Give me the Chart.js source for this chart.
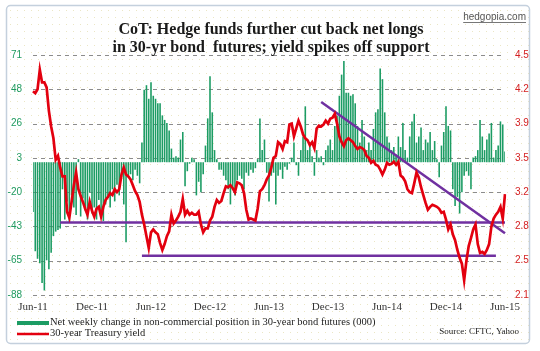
<!DOCTYPE html>
<html>
<head>
<meta charset="utf-8">
<script src="https://cdn.jsdelivr.net/npm/chart.js@4.4.1/dist/chart.umd.min.js"></script>
<style>
    html, body { margin: 0; padding: 0; background: #ffffff; }
    #wrap { width: 540px; height: 351px; }
</style>
</head>
<body>
<div id="wrap"><canvas id="cotChart" width="540" height="351"></canvas></div>
<script>
// weekly data, first week = Jun-11, one value per week
const netChange = [
    -33, -59, -64, -67, -80, -85, -65, -71, -60, -49, -46, -45, -44, -18, -38, -26, -40, -22, -30, -35,
    2, -36, -24, -32, -38, -20, -34, -30, -38, -25, -36, -39, -28, -22, -30, -18, -26, -15, -22, -10, -28, -53, -10, -8, -12, -5, -9, -14, 13,
    48, 51, 42, 53, 44, 42, 39, 39, 31, 28, 26, 21, 9, 3, 4, 3, 15, 20, -16, -6, -1, 3, 2, -22, -13, -20, -8, 11, 29,
    57, 33, 8, 2, -5, -5, -9, -12, -18, -28, -18, -22, -12, -9, -11, -18, -7, -9, -5, -7, -4, 2, 29, 8, 15, -7, -26, -9, -7,
    -28, -9, -5, -11, -3, -5, -1, 3, 13, -2, -9, 8, 17, 37, 8, 11, 4, -9, 8, 3, 4, -2, 8, 11, 15, 8, 24, 31, 44,
    58, 67, 46, 46, 44, 45, 39, 24, 13, 28, 17, 8, 13, 8, 22, 33, 35, 62, 55, 33, 17, 13, 8, 10, 5, 17, 10, 26, 8,
    3, 17, 27, 32, 13, 17, 23, 8, 15, 13, 20, 8, 14, 2, -10, 11, 20, 37, 24, 21, -18, -29, -23, -34, -20, -9, -6, -9, -18,
    3, 4, 8, 28, 17, 8, 15, 19, 26, 3, 8, 11, 27, 25, 7
];

const bondYield = [
    4.18, 4.16, 4.20, 4.40, 4.27, 4.27, 4.22, 3.98, 3.82, 3.70, 3.48, 3.52, 3.40, 3.31, 3.31, 2.95, 2.89, 3.05, 3.22, 3.35,
    3.18, 3.11, 3.05, 2.98, 2.92, 3.05, 2.96, 2.90, 2.98, 3.00, 2.90, 3.00, 3.07, 3.10, 3.14, 3.12, 3.18, 3.15, 3.18, 3.33, 3.40, 3.33, 3.31, 3.28, 3.22, 3.16, 3.12, 3.05, 2.92,
    2.82, 2.70, 2.58, 2.74, 2.77, 2.74, 2.72, 2.63, 2.56, 2.62, 2.70, 2.75, 2.92, 2.83, 2.86, 2.90, 2.95, 3.08, 2.92, 2.96, 2.92, 2.94, 2.92, 2.92, 2.95, 2.82, 2.74, 2.78, 2.78,
    2.86, 2.90, 3.00, 3.07, 3.04, 3.06, 3.14, 3.21, 3.20, 3.22, 3.19, 3.15, 3.25, 3.24, 3.22, 3.14, 2.97, 2.87, 2.88, 2.87, 2.86, 2.98, 3.16, 3.18, 3.22, 3.28, 3.32, 3.40, 3.50,
    3.52, 3.66, 3.64, 3.59, 3.67, 3.66, 3.84, 3.85, 3.72, 3.80, 3.88, 3.82, 3.74, 3.70, 3.68, 3.63, 3.66, 3.60, 3.80, 3.83, 3.82, 3.84, 3.88, 3.85, 3.90, 3.91, 3.95, 3.85, 3.72,
    3.66, 3.62, 3.68, 3.70, 3.68, 3.66, 3.62, 3.59, 3.61, 3.60, 3.58, 3.52, 3.50, 3.45, 3.47, 3.43, 3.42, 3.38, 3.33, 3.38, 3.45, 3.43, 3.44, 3.46, 3.43, 3.46, 3.32, 3.30, 3.26,
    3.18, 3.15, 3.14, 3.24, 3.35, 3.30, 3.20, 3.12, 3.04, 2.97, 3.00, 3.02, 3.01, 3.00, 2.98, 2.94, 2.95, 2.87, 2.77, 2.82, 2.72, 2.66, 2.56, 2.48, 2.42, 2.25, 2.45, 2.60, 2.68,
    2.77, 2.82, 2.62, 2.53, 2.54, 2.52, 2.56, 2.62, 2.80, 2.88, 2.92, 2.95, 3.00, 2.88, 3.13
];

// tick labels
const xTickLabels = ["Jun-11", "Dec-11", "Jun-12", "Dec-12", "Jun-13", "Dec-13", "Jun-14", "Dec-14", "Jun-15"];
const leftTickLabels = ["-88", "-65", "-43", "-20", "3", "26", "48", "71"];
const rightTickLabels = ["2.1", "2.5", "2.8", "3.2", "3.5", "3.9", "4.2", "4.5"];

// hand-drawn support / trend lines: [startWeek, endWeek], [startYield, endYield]
const upperSupportWeeks = [12, 208];
const upperSupportYield = [2.84, 2.84];
const lowerSupportWeeks = [48, 204];
const lowerSupportYield = [2.50, 2.50];
const trendWeeks = [127, 208];
const trendYield = [4.07, 2.73];

const GREEN = "#1c9c64";
const RED = "#e3000f";
const PURPLE = "#7030a0";

const weeks = netChange.map((_, i) => i);

function segment(wk, vals) {
    const arr = weeks.map(() => null);
    arr[wk[0]] = vals[0];
    arr[wk[1]] = vals[1];
    return arr;
}

function dotPattern(ctx) {
    const c = document.createElement("canvas");
    c.width = 7;
    c.height = 7;
    const p = c.getContext("2d");
    p.fillStyle = "rgba(215, 205, 140, 0.5)";
    p.fillRect(3, 3, 1, 1);
    return ctx.createPattern(c, "repeat");
}

const decor = {
    id: "decor",
    beforeDraw(chart) {
        const ctx = chart.ctx;
        ctx.save();
        ctx.fillStyle = "#ffffff";
        ctx.fillRect(0, 0, chart.width, chart.height);
        ctx.beginPath();
        ctx.roundRect(6.5, 5.5, 523, 338, 4);
        ctx.fillStyle = dotPattern(ctx);
        ctx.fill();
        ctx.strokeStyle = "#c4d0dd";
        ctx.lineWidth = 1.5;
        ctx.stroke();
        ctx.restore();
    },
    beforeDatasetsDraw(chart) {
        // dashed horizontal grid on the left-axis ticks
        const ctx = chart.ctx;
        const yL = chart.scales.yL;
        const area = chart.chartArea;
        ctx.save();
        ctx.strokeStyle = "#8c8c8c";
        ctx.lineWidth = 1;
        ctx.setLineDash([4, 4]);
        yL.ticks.forEach((t) => {
            const y = Math.round(yL.getPixelForValue(t.value)) + 0.5;
            ctx.beginPath();
            ctx.moveTo(area.left, y);
            ctx.lineTo(area.right - 2, y);
            ctx.stroke();
        });
        ctx.restore();
    },
    afterDraw(chart) {
        const ctx = chart.ctx;
        ctx.save();

        // title
        ctx.fillStyle = "#1a1a1a";
        ctx.textAlign = "center";
        ctx.textBaseline = "alphabetic";
        ctx.font = "bold 16px 'Liberation Serif'";
        ctx.fillText("CoT: Hedge funds further cut back net longs", 271, 34);
        ctx.fillText("in 30-yr bond  futures; yield spikes off support", 271, 52);

        // site tag
        ctx.font = "10px 'Liberation Sans'";
        ctx.fillStyle = "#555555";
        ctx.textAlign = "right";
        ctx.textBaseline = "middle";
        ctx.fillText("hedgopia.com", 526, 17);
        const w = ctx.measureText("hedgopia.com").width;
        ctx.fillRect(526 - w, 22, w, 0.8);

        // legend
        ctx.textAlign = "left";
        ctx.font = "10.5px 'Liberation Serif'";
        ctx.fillStyle = GREEN;
        ctx.fillRect(17, 321, 32, 4);
        ctx.strokeStyle = RED;
        ctx.lineWidth = 2.5;
        ctx.beginPath();
        ctx.moveTo(17, 334);
        ctx.lineTo(49, 334);
        ctx.stroke();
        ctx.fillStyle = "#222222";
        ctx.fillText("Net weekly change in non-commercial position in 30-year bond futures (000)", 50, 322);
        ctx.fillText("30-year Treasury yield", 50, 333);

        ctx.font = "9px 'Liberation Serif'";
        ctx.textAlign = "right";
        ctx.fillText("Source: CFTC, Yahoo", 519, 332);
        ctx.restore();
    }
};

new Chart(document.getElementById("cotChart"), {
    type: "bar",
    data: {
        labels: weeks,
        datasets: [
            {
                type: "line",
                label: "30-year Treasury yield",
                data: bondYield,
                yAxisID: "yR",
                borderColor: RED,
                borderWidth: 2.7,
                pointRadius: 0,
                tension: 0,
                order: 0,
            },
            {
                type: "line",
                data: segment(upperSupportWeeks, upperSupportYield),
                yAxisID: "yR",
                borderColor: PURPLE,
                borderWidth: 2.5,
                pointRadius: 0,
                spanGaps: true,
                order: 1,
            },
            {
                type: "line",
                data: segment(lowerSupportWeeks, lowerSupportYield),
                yAxisID: "yR",
                borderColor: PURPLE,
                borderWidth: 2.5,
                pointRadius: 0,
                spanGaps: true,
                order: 1,
            },
            {
                type: "line",
                data: segment(trendWeeks, trendYield),
                yAxisID: "yR",
                borderColor: PURPLE,
                borderWidth: 2.5,
                pointRadius: 0,
                spanGaps: true,
                order: 1,
            },
            {
                label: "Net weekly change in non-commercial position in 30-year bond futures (000)",
                data: netChange,
                yAxisID: "yL",
                backgroundColor: GREEN,
                borderWidth: 0,
                barPercentage: 0.7,
                categoryPercentage: 1.0,
                order: 2,
            },
        ],
    },
    options: {
        responsive: false,
        animation: false,
        layout: { padding: { top: 55, left: 0, right: 0, bottom: 0 } },
        plugins: {
            legend: { display: false },
            tooltip: { enabled: false },
        },
        scales: {
            x: {
                offset: false,
                grid: { display: false, drawTicks: false },
                border: { display: false },
                afterFit: (s) => { s.height = 56; },
                ticks: {
                    autoSkip: false,
                    maxRotation: 0,
                    padding: 6,
                    color: "#333333",
                    font: { family: "'Liberation Serif'", size: 11 },
                    callback: (v, i) => (i % 26 === 0 ? xTickLabels[i / 26] : ""),
                },
            },
            yL: {
                position: "left",
                min: -88,
                max: 71,
                afterFit: (s) => { s.width = 33; },
                afterBuildTicks: (s) => {
                    s.ticks = leftTickLabels.map((t, k) => ({ value: -88 + (k * 159) / 7 }));
                },
                grid: { display: false, drawTicks: false },
                border: { display: false },
                ticks: {
                    padding: 11,
                    color: "#1f9a5e",
                    font: { family: "'Liberation Sans'", size: 10 },
                    callback: (v, i) => leftTickLabels[i],
                },
            },
            yR: {
                position: "right",
                min: 2.1,
                max: 4.55,
                afterFit: (s) => { s.width = 35; },
                afterBuildTicks: (s) => {
                    s.ticks = rightTickLabels.map((t, k) => ({ value: 2.1 + k * 0.35 }));
                },
                grid: { display: false, drawTicks: false },
                border: { display: false },
                ticks: {
                    padding: 10,
                    color: "#d42020",
                    font: { family: "'Liberation Sans'", size: 10 },
                    callback: (v, i) => rightTickLabels[i],
                },
            },
        },
    },
    plugins: [decor],
});
</script>
</body>
</html>
